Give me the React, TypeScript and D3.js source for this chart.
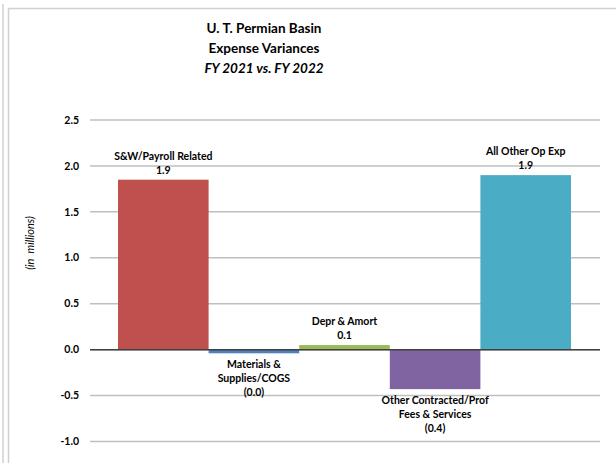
import React from "react";
import * as d3 from "d3";

const categories = [
  ["S&W/Payroll Related"],
  ["Materials &", "Supplies/COGS"],
  ["Depr & Amort"],
  ["Other Contracted/Prof", "Fees & Services"],
  ["All Other Op Exp"],
];
const values = [1.85, -0.04, 0.05, -0.43, 1.9];
const valueLabels = ["1.9", "(0.0)", "0.1", "(0.4)", "1.9"];
const colors = ["#C0504D", "#4F81BD", "#9BBB59", "#8064A2", "#4BACC6"];
const yTicks = [2.5, 2.0, 1.5, 1.0, 0.5, 0.0, -0.5, -1.0];
const titleLines = ["U. T. Permian Basin", "Expense Variances", "FY 2021 vs. FY 2022"];

const FONT = "Lato, 'Open Sans', sans-serif";

export default function App() {
  const plotLeft = 90;
  const plotRight = 600;
  const y = d3.scaleLinear().domain([-1.0, 2.5]).range([441.5, 120]);
  const x = d3
    .scaleBand<number>()
    .domain(d3.range(values.length))
    .range([118, 571])
    .paddingInner(0)
    .paddingOuter(0);
  const fmt = (t: number) => d3.format(".1f")(t).replace("\u2212", "-");

  return (
    <svg
      width={616}
      height={463}
      style={{ position: "absolute", left: 0, top: 0, background: "#fff" }}
      fontFamily={FONT}
    >
      <rect x={0} y={0} width={616} height={463} fill="#fff" />
      {/* frames */}
      <line x1={3} y1={4} x2={3} y2={463} stroke="#d0d0d0" strokeWidth={1.5} />
      <path d="M8.5,463 L8.5,8.5 L616,8.5" fill="none" stroke="#d0d0d0" strokeWidth={1.5} />

      {/* title */}
      <g textAnchor="middle" fontSize={13.5} fontWeight="bold" fill="#000">
        <text x={264} y={33}>{titleLines[0]}</text>
        <text x={264} y={53}>{titleLines[1]}</text>
        <text x={264} y={73} fontStyle="italic">{titleLines[2]}</text>
      </g>

      {/* gridlines */}
      {yTicks.map((t) => (
        <line
          key={"g" + t}
          x1={plotLeft}
          x2={plotRight}
          y1={y(t)}
          y2={y(t)}
          stroke="#bfbfbf"
          strokeWidth={1.5}
        />
      ))}

      {/* tick labels */}
      {yTicks.map((t) => (
        <text
          key={"t" + t}
          x={79}
          y={y(t)}
          dy="0.35em"
          textAnchor="end"
          fontSize={10.5}
          fontWeight="bold"
          fill="#000"
        >
          {fmt(t)}
        </text>
      ))}

      {/* y axis title */}
      <text
        transform={`translate(34,243) rotate(-90)`}
        textAnchor="middle"
        fontSize={11}
        fontStyle="italic"
        fill="#000"
        style={{ whiteSpace: "pre" }}
      >
        {"(in  millions)"}
      </text>

      {/* bars */}
      {values.map((v, i) => (
        <rect
          key={"b" + i}
          x={x(i)}
          width={x.bandwidth()}
          y={Math.min(y(v), y(0))}
          height={Math.abs(y(v) - y(0))}
          fill={colors[i]}
        />
      ))}

      {/* zero line */}
      <line x1={plotLeft} x2={plotRight} y1={y(0)} y2={y(0)} stroke="#404040" strokeWidth={1.5} />

      {/* data labels */}
      {values.map((v, i) => {
        const lines = [...categories[i], valueLabels[i]];
        const cx = (x(i) as number) + x.bandwidth() / 2;
        const lh = 14;
        let startY: number;
        if (v >= 0) {
          startY = y(v) - 6 - (lines.length - 1) * lh;
        } else {
          startY = y(v) + 15;
        }
        return (
          <g key={"l" + i} textAnchor="middle" fontSize={10.5} fontWeight="bold" fill="#000">
            {lines.map((ln, j) => (
              <text key={j} x={cx} y={startY + j * lh}>
                {ln}
              </text>
            ))}
          </g>
        );
      })}
    </svg>
  );
}
